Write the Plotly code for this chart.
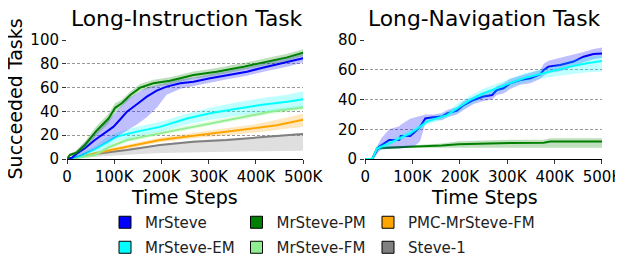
import plotly.graph_objects as go

# ---------------- data (time steps in K) ----------------
# Long-Instruction Task
li_ms_t = [0, 10, 20, 38, 59, 70, 84, 98, 112, 127, 148, 169, 190, 211, 240, 268, 303, 339, 381, 423, 466, 500]
li_ms_v = [0, 1, 4.2, 9, 16, 19.3, 23, 27, 33, 39.8, 46, 52.4, 57.4, 60.8, 63.6, 65, 67.8, 70.6, 73.4, 77.6, 81.2, 84.6]
li_ms_lo = [0, 0, 1, 4, 9, 11, 14, 17, 20, 24, 29, 35, 43, 54, 59, 61, 64, 67, 70, 74, 77.5, 81]
li_ms_hi = [0, 2, 7, 14, 23, 27, 32, 37, 43, 50, 55, 60, 62, 64, 67, 68.5, 71, 74, 77, 81, 85, 88]

li_pm_t = [0, 6, 20, 38, 63, 88, 102, 116, 134, 155, 183, 218, 268, 317, 374, 423, 466, 500]
li_pm_v = [0, 3.4, 5.3, 11.8, 24, 34, 43, 46.8, 53.8, 60, 63.6, 65.8, 70.6, 73.4, 77.6, 81.8, 85.4, 89.3]
li_pm_lo = [0, 2.4, 3.3, 8.8, 20, 30, 39, 43.8, 50.8, 57, 60.6, 62.8, 67.6, 70.4, 74.6, 78.8, 82.4, 86.3]
li_pm_hi = [0, 4.4, 7.3, 14.8, 28, 38, 47, 49.8, 56.8, 63, 66.6, 68.8, 73.6, 76.4, 80.6, 84.8, 88.4, 92.3]

li_em_t = [0, 10, 30, 59, 80, 105, 148, 197, 254, 303, 353, 409, 466, 500]
li_em_v = [0, 0.5, 3, 8, 13, 18.8, 23, 27, 34, 38.4, 41.8, 45.4, 48.2, 50.2]
li_em_lo = [0, 0, 1, 5, 9, 15, 19, 23, 29, 33, 36, 39, 42, 44]
li_em_hi = [0, 1, 5, 11, 17, 22, 27, 31, 38, 43, 47, 51, 54, 57]

li_fm_t = [0, 10, 30, 59, 91, 127, 169, 218, 268, 317, 374, 430, 500]
li_fm_v = [0, 0.3, 1.5, 3.4, 10.3, 16, 19.6, 23.2, 27, 31, 35.5, 39.7, 43.3]
li_fm_lo = [0, 0, 0.5, 1.8, 8.3, 14, 17.6, 21.2, 25, 29, 33.5, 37.7, 41.3]
li_fm_hi = [0, 0.6, 2.5, 5, 12.3, 18, 21.6, 25.2, 29, 33, 37.5, 41.7, 45.3]

li_pmc_t = [0, 10, 30, 59, 127, 197, 268, 339, 395, 444, 500]
li_pmc_v = [0, 0.3, 2, 4.8, 10.3, 16, 19.6, 23, 25.5, 28.3, 33]
li_pmc_lo = [0, 0, 1, 3.5, 8.5, 14, 17.5, 20, 22, 24, 27]
li_pmc_hi = [0, 1, 3, 6, 12, 18, 22, 26, 29, 33, 38]

li_s1_t = [0, 10, 30, 59, 127, 197, 268, 339, 409, 500]
li_s1_v = [0, 0.3, 2, 4.2, 7.6, 11.8, 14.6, 16, 18.2, 21]
li_s1_lo = [0, 0, 1, 2, 3.5, 5, 5.5, 6, 6.5, 7]
li_s1_hi = [0, 0.5, 2.5, 5, 8.5, 12.5, 15.5, 17, 19, 22]

# Long-Navigation Task
ln_ms_t = [0, 15, 18, 29, 34, 51, 72, 75, 95, 106, 116, 127, 144, 162, 173, 194, 208, 229, 250, 268, 278, 292, 306, 327, 349, 370, 377, 387, 412, 440, 461, 482, 500]
ln_ms_v = [0, 0, 2, 8.3, 9.2, 12.8, 12.8, 15.5, 15.5, 18.4, 21.7, 27.3, 28, 28.5, 30.7, 32.5, 36.3, 39.7, 42, 43, 46.4, 47.5, 50.9, 53.1, 54.3, 57.1, 59.9, 62.1, 63.2, 65.5, 68.8, 70.6, 71]
ln_ms_lo = [0, 0, 0, 5, 6, 7, 7, 7, 8, 9, 12, 24, 26, 26, 28, 30, 33, 37, 39, 40, 43, 44, 47, 50, 51, 54, 56, 58, 59, 62, 65, 67, 68]
ln_ms_hi = [0, 0, 4, 11, 14, 20, 22, 23, 27, 28, 29, 30, 30, 31, 33, 35, 39, 42, 45, 46, 49, 51, 54, 56, 58, 60, 64, 66, 68, 70, 72, 74, 75]

ln_em_t = [0, 15, 18, 25, 34, 51, 72, 95, 116, 130, 151, 173, 194, 222, 250, 278, 306, 334, 370, 398, 433, 468, 500]
ln_em_v = [0, 0, 2, 7, 8.3, 10.5, 13.9, 17.3, 21.7, 25, 27.3, 29.5, 34, 39.7, 44.2, 47.5, 50.9, 54.3, 57.1, 59.4, 62.1, 64.4, 65.9]
ln_em_lo = [0, 0, 1, 5, 6.3, 8.5, 11.9, 15.3, 19.7, 23, 25.3, 27.5, 31, 36.7, 41.2, 44.5, 47.9, 51.3, 54.1, 55.4, 57.1, 58.4, 58.9]
ln_em_hi = [0, 0, 3, 9, 10.3, 12.5, 15.9, 19.3, 23.7, 27, 29.3, 31.5, 37, 42.7, 47.2, 50.5, 53.9, 57.3, 60.1, 62.4, 66.1, 68.4, 69.9]

ln_pm_t = [0, 15, 18, 25, 95, 162, 197, 250, 306, 377, 391, 500]
ln_pm_v = [0, 0, 2, 7.2, 8.3, 9, 10, 10.5, 10.8, 11, 11.8, 11.8]
ln_pm_lo = [0, 0, 1, 6.5, 7.5, 7.5, 7.5, 7.5, 7.5, 7.5, 7.5, 7.5]
ln_pm_hi = [0, 0, 3, 8, 9, 10.5, 12, 12.5, 13, 13, 14, 14]

x_tickvals = [0, 100, 200, 300, 400, 500]
x_ticktext = ["0", "100K", "200K", "300K", "400K", "500K"]
li_yticks = [0, 20, 40, 60, 80, 100]
ln_yticks = [0, 20, 40, 60, 80]

legend_order = ["MrSteve", "MrSteve-EM", "MrSteve-PM", "MrSteve-FM", "PMC-MrSteve-FM", "Steve-1"]

COL = {
    "MrSteve": "#0000ff",
    "MrSteve-EM": "#00ffff",
    "MrSteve-PM": "#008000",
    "MrSteve-FM": "#90ee90",
    "PMC-MrSteve-FM": "#ffa500",
    "Steve-1": "#808080",
}


def rgba(hexc, a):
    h = hexc.lstrip("#")
    r, g, b = int(h[0:2], 16), int(h[2:4], 16), int(h[4:6], 16)
    return f"rgba({r},{g},{b},{a})"


FONT = "DejaVu Sans"
OFF = 8  # page body margin of the browser
WIN_W, WIN_H = 623, 256
W, H = WIN_W - OFF, WIN_H - OFF
# plot-area edges in window pixels
L_EDGE, R_EDGE, T_EDGE, B_EDGE = 67, 601.7, 40, 159
ML, MR = L_EDGE - OFF, W - (R_EDGE - OFF)
MT, MB = T_EDGE - OFF, H - (B_EDGE - OFF)
PW, PH = R_EDGE - L_EDGE, B_EDGE - T_EDGE


def px(x):  # window pixel x -> paper fraction
    return (x - L_EDGE) / PW


def py(y):  # window pixel y -> paper fraction
    return (B_EDGE - y) / PH


fig = go.Figure()


def add_series(name, t, v, lo, hi, xa, ya, alpha=0.25):
    fig.add_trace(go.Scatter(
        x=list(t) + list(t)[::-1], y=list(hi) + list(lo)[::-1],
        fill="toself", fillcolor=rgba(COL[name], alpha), line=dict(width=0),
        mode="lines", hoverinfo="skip", showlegend=False, xaxis=xa, yaxis=ya))
    fig.add_trace(go.Scatter(
        x=t, y=v, mode="lines", line=dict(color=COL[name], width=2),
        showlegend=False, xaxis=xa, yaxis=ya))


# left panel
add_series("Steve-1", li_s1_t, li_s1_v, li_s1_lo, li_s1_hi, "x", "y", 0.25)
add_series("PMC-MrSteve-FM", li_pmc_t, li_pmc_v, li_pmc_lo, li_pmc_hi, "x", "y")
add_series("MrSteve-FM", li_fm_t, li_fm_v, li_fm_lo, li_fm_hi, "x", "y")
add_series("MrSteve-EM", li_em_t, li_em_v, li_em_lo, li_em_hi, "x", "y")
add_series("MrSteve", li_ms_t, li_ms_v, li_ms_lo, li_ms_hi, "x", "y")
add_series("MrSteve-PM", li_pm_t, li_pm_v, li_pm_lo, li_pm_hi, "x", "y")

# right panel
add_series("MrSteve-PM", ln_pm_t, ln_pm_v, ln_pm_lo, ln_pm_hi, "x2", "y2")
add_series("MrSteve", ln_ms_t, ln_ms_v, ln_ms_lo, ln_ms_hi, "x2", "y2")
add_series("MrSteve-EM", ln_em_t, ln_em_v, ln_em_lo, ln_em_hi, "x2", "y2")

# legend: 3 columns x 2 rows (column-major order), one legend per entry
col_x = [105, 236.5, 368]   # window px of legend box left
row_y = [222.5, 247.5]      # window px of row centre
legend_layout = {}
for i, n in enumerate(legend_order):
    key = "legend" if i == 0 else f"legend{i + 1}"
    c, r = i // 2, i % 2
    fig.add_trace(go.Scatter(
        x=[None], y=[None], mode="markers", name=n, legend=key,
        marker=dict(symbol="square", size=12, color=COL[n],
                    line=dict(color="black", width=1)),
        xaxis="x", yaxis="y"))
    legend_layout[key] = dict(
        orientation="h", xref="container", yref="container",
        x=(col_x[c] - OFF) / W, xanchor="left", y=1 - (row_y[r] - OFF) / H,
        yanchor="middle",
        font=dict(family=FONT, size=15, color="#222"),
        bgcolor="rgba(0,0,0,0)", itemclick=False, itemdoubleclick=False)

tickfont = dict(family=FONT, size=15, color="black")
xaxis_common = dict(
    range=[0, 500], tickvals=x_tickvals, ticktext=x_ticktext, showgrid=False,
    showline=True, linecolor="black", linewidth=1.2,
    ticks="outside", ticklen=4, tickwidth=1, tickcolor="#333",
    tickfont=tickfont, zeroline=False, automargin=False,
)
yaxis_common = dict(
    showgrid=True, gridcolor="#999", griddash="3px,2px", gridwidth=0.8,
    showline=False, ticks="outside", ticklen=4, tickwidth=1, tickcolor="#333",
    tickfont=tickfont, zeroline=False, automargin=False, domain=[0, 1],
)
fig.update_layout(
    width=W, height=H,
    margin=dict(l=ML, r=MR, t=MT, b=MB, autoexpand=False),
    plot_bgcolor="white", paper_bgcolor="white",
    font=dict(family=FONT, color="black"),
    xaxis=dict(domain=[0, px(303)], anchor="y", **xaxis_common),
    yaxis=dict(range=[0, 100], tickvals=li_yticks, anchor="x", **yaxis_common),
    xaxis2=dict(domain=[px(365), 1], anchor="y2", **xaxis_common),
    yaxis2=dict(range=[0, 80], tickvals=ln_yticks, anchor="x2", **yaxis_common),
    showlegend=True,
    **legend_layout,
)

ann = [
    dict(text="Long-Instruction Task", x=186.5, y=18.5, size=21.8),
    dict(text="Long-Navigation Task", x=484, y=18.5, size=21.8),
    dict(text="Time Steps", x=184.5, y=196.5, size=19),
    dict(text="Time Steps", x=484, y=196.5, size=19),
]
for a in ann:
    fig.add_annotation(text=a["text"], x=px(a["x"]), y=py(a["y"]), xref="paper", yref="paper",
                       xanchor="center", yanchor="middle", showarrow=False,
                       font=dict(family=FONT, size=a["size"], color="black"))
fig.add_annotation(text="Succeeded Tasks", x=px(15.5), y=py(99), xref="paper",
                   yref="paper", xanchor="center", yanchor="middle", showarrow=False,
                   textangle=-90, font=dict(family=FONT, size=19, color="black"))

fig.write_html("out.html")
